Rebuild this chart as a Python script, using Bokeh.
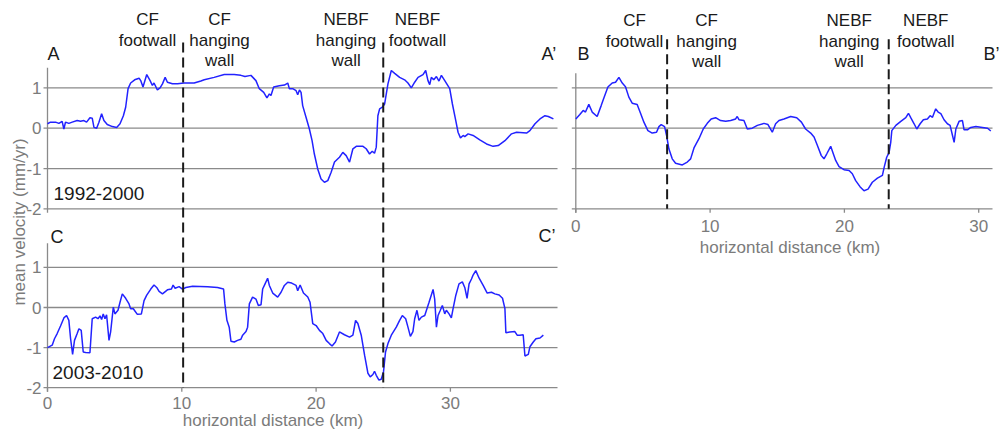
import math
from bokeh.plotting import figure
from bokeh.models import Range1d, Label
from bokeh.core.properties import value
from bokeh.embed import file_html
from bokeh.resources import INLINE

# ---------------- data ----------------
# Profile A-A' (1992-2000), horizontal distance (km) and mean velocity (mm/yr)
dist_a = [0.0, 0.22, 0.60, 0.85, 1.09, 1.22, 1.34, 1.59, 1.84, 2.21, 2.46, 2.71, 2.91, 3.16, 3.33, 3.46, 3.66, 3.83,
          4.03, 4.20, 4.45, 4.83, 5.15, 5.40, 5.65, 5.82, 6.00, 6.19, 6.49, 6.82, 6.94, 7.11, 7.39, 7.64, 7.81, 7.93,
          8.18, 8.38, 8.56, 8.76, 8.93, 9.30, 9.68, 10.17, 10.92, 11.42, 11.67, 12.41, 13.16, 13.90, 14.40, 14.70,
          15.15, 15.52, 15.77, 16.10, 16.34, 16.52, 16.64, 16.84, 17.26, 17.64, 17.89, 18.01, 18.26, 18.51, 18.63,
          18.76, 18.88, 19.00, 19.25, 19.50, 19.70, 19.87, 20.12, 20.37, 20.62, 20.87, 21.12, 21.37, 21.74, 21.99,
          22.24, 22.49, 22.74, 22.99, 23.49, 23.73, 23.98, 24.18, 24.35, 24.48, 24.60, 24.73, 24.93, 25.10, 25.35,
          25.60, 25.85, 26.22, 26.59, 26.84, 27.09, 27.34, 27.59, 27.96, 28.16, 28.33, 28.46, 28.58, 28.76, 28.96,
          29.15, 29.33, 29.58, 29.95, 30.15, 30.40, 30.57, 30.75, 30.95, 31.07, 31.32, 31.69, 32.19, 32.69, 33.18,
          33.56, 34.06, 34.55, 34.93, 35.67, 35.92, 36.30, 36.67, 37.04, 37.29, 37.67]
vel_a = [0.11, 0.15, 0.15, 0.12, 0.17, -0.02, 0.15, 0.12, 0.15, 0.19, 0.17, 0.19, 0.15, 0.26, 0.25, 0.02, 0.0, 0.15,
         0.36, 0.19, 0.09, 0.04, 0.02, 0.11, 0.31, 0.52, 0.98, 1.12, 1.20, 1.24, 1.18, 1.02, 1.33, 1.18, 1.06, 1.12,
         0.95, 1.00, 1.10, 1.26, 1.14, 1.10, 1.10, 1.12, 1.12, 1.17, 1.20, 1.26, 1.33, 1.33, 1.31, 1.28,
         1.31, 1.18, 0.98, 0.89, 0.75, 0.85, 0.81, 1.02, 1.05, 1.07, 1.12, 0.98, 0.98, 0.93, 0.83,
         0.95, 0.89, 0.56, 0.27, -0.02, -0.31, -0.64, -1.01, -1.26, -1.34, -1.30, -1.09, -0.84, -0.72, -0.60,
         -0.68, -0.84, -0.51, -0.45, -0.45, -0.51, -0.64, -0.57, -0.62, -0.47, 0.31, 0.48, 0.52, 0.60, 1.10,
         1.43, 1.36, 1.26, 1.20, 1.12, 1.00, 1.14, 1.26, 1.33, 1.43, 1.18, 1.08, 1.26, 1.20, 1.28,
         1.17, 1.31, 1.18, 0.98, 0.60, 0.19, -0.10, -0.24, -0.18, -0.21, -0.14, -0.18, -0.29, -0.39, -0.45,
         -0.43, -0.31, -0.14, -0.10, -0.12, -0.06, 0.11, 0.23, 0.31, 0.29, 0.23]

# Profile C-C' (2003-2010)
dist_c = [0.0, 0.35, 0.52, 0.72, 0.97, 1.22, 1.42, 1.59, 1.72, 1.87,
          2.01, 2.21, 2.34, 2.51, 2.66, 2.84, 3.16, 3.33, 3.58, 3.76,
          3.91, 4.03, 4.15, 4.28, 4.40, 4.58, 4.70, 4.90, 5.02, 5.25,
          5.40, 5.57, 5.82, 6.07, 6.19, 6.39, 6.69, 6.99, 7.19, 7.39,
          7.69, 7.93, 8.13, 8.31, 8.56, 8.93, 9.23, 9.35, 9.50, 9.80,
          10.05, 10.30, 10.80, 11.92, 12.66, 13.11, 13.21, 13.36, 13.53, 13.66,
          13.91, 14.15, 14.40, 14.53, 14.78, 14.90, 15.03, 15.27, 15.52, 15.70,
          15.90, 16.02, 16.20, 16.39, 16.52, 16.77, 17.14, 17.39, 17.64, 17.89,
          18.18, 18.51, 18.63, 18.81, 19.06, 19.38, 19.55, 19.75, 20.00, 20.25,
          20.50, 20.75, 20.99, 21.19, 21.44, 21.74, 22.11, 22.49, 22.74, 22.94,
          23.11, 23.36, 23.61, 23.86, 24.03, 24.23, 24.35, 24.48, 24.68, 24.85,
          25.02, 25.17, 25.35, 25.60, 25.97, 26.22, 26.42, 26.67, 26.84, 27.02,
          27.21, 27.34, 27.51, 27.66, 27.84, 28.09, 28.41, 28.71, 28.83, 28.96,
          29.08, 29.25, 29.40, 29.58, 29.70, 29.90, 30.07, 30.20, 30.40, 30.64,
          30.89, 31.07, 31.24, 31.39, 31.57, 31.69, 31.89, 32.14, 32.44, 32.74,
          33.06, 33.31, 33.63, 33.88, 34.06, 34.13, 34.43, 34.80, 34.97, 35.17,
          35.42, 35.55, 35.80, 35.92, 36.17, 36.37, 36.67, 36.92]
vel_c = [-1.0, -0.94, -0.78, -0.65, -0.46, -0.26, -0.20, -0.32, -0.78, -1.17,
         -0.82, -0.65, -0.53, -0.57, -1.11, -1.12, -1.13, -0.28, -0.24, -0.28,
         -0.21, -0.30, -0.16, -0.28, -0.18, -0.82, -0.61, 0.01, -0.16, -0.07,
         0.13, 0.34, 0.23, 0.09, -0.03, -0.03, -0.17, -0.16, 0.17, 0.31,
         0.46, 0.56, 0.50, 0.40, 0.34, 0.44, 0.46, 0.56, 0.48, 0.52,
         0.46, 0.50, 0.53, 0.52, 0.50, 0.46, 0.09, -0.32, -0.49, -0.84,
         -0.86, -0.82, -0.79, -0.69, -0.60, -0.49, 0.09, 0.26, 0.21, 0.05,
         0.07, 0.46, 0.59, 0.73, 0.55, 0.36, 0.26, 0.38, 0.55, 0.63,
         0.61, 0.55, 0.42, 0.56, 0.36, 0.26, 0.13, -0.40, -0.45, -0.57,
         -0.65, -0.82, -0.90, -0.96, -0.86, -0.61, -0.68, -0.74, -0.69, -0.32,
         -0.40, -0.69, -1.19, -1.64, -1.73, -1.67, -1.59, -1.69, -1.81, -1.79,
         -1.60, -1.11, -0.90, -0.69, -0.49, -0.32, -0.20, -0.28, -0.49, -0.72,
         -0.60, -0.28, -0.07, -0.32, -0.24, -0.20, 0.13, 0.45, 0.21, -0.49,
         -0.20, -0.07, 0.05, -0.16, -0.07, -0.16, -0.26, -0.03, 0.30, 0.59,
         0.64, 0.50, 0.23, 0.59, 0.71, 0.81, 0.92, 0.73, 0.55, 0.36,
         0.38, 0.34, 0.31, 0.23, -0.03, -0.63, -0.61, -0.60, -0.69, -0.69,
         -0.68, -1.21, -1.17, -0.98, -0.86, -0.78, -0.76, -0.69]

# Profile B-B'
dist_b = [0.0, 0.30, 0.55, 0.72, 0.97, 1.22, 1.59, 1.89, 2.09, 2.39,
          2.71, 2.96, 3.21, 3.46, 3.70, 3.95, 4.20, 4.57, 4.82, 5.07,
          5.37, 5.69, 6.01, 6.19, 6.36, 6.61, 6.76, 6.93, 7.18, 7.43,
          7.93, 8.30, 8.55, 8.80, 9.17, 9.49, 9.79, 10.08, 10.41, 10.78,
          11.16, 11.53, 11.90, 12.02, 12.15, 12.52, 12.77, 13.14, 13.52, 14.01,
          14.31, 14.63, 14.88, 15.13, 15.50, 16.00, 16.45, 16.80, 17.11, 17.49,
          17.74, 17.99, 18.28, 18.48, 18.68, 18.98, 19.18, 19.35, 19.60, 19.97,
          20.35, 20.59, 20.84, 21.16, 21.46, 21.76, 22.08, 22.46, 22.83, 22.96,
          23.15, 23.33, 23.45, 23.53, 23.83, 24.20, 24.57, 24.77, 24.94, 25.19,
          25.39, 25.64, 25.88, 26.18, 26.38, 26.56, 26.80, 26.98, 27.18, 27.42,
          27.67, 27.87, 28.05, 28.17, 28.30, 28.54, 28.79, 28.91, 29.16, 29.41,
          29.79, 30.28, 30.66, 30.90]
vel_b = [0.23, 0.34, 0.44, 0.40, 0.59, 0.40, 0.29, 0.56, 0.75, 1.02,
         1.12, 1.14, 1.26, 1.12, 1.03, 0.77, 0.62, 0.59, 0.37, 0.15,
         -0.06, -0.12, -0.10, 0.04, 0.09, 0.04, -0.18, -0.51, -0.76, -0.87,
         -0.91, -0.84, -0.76, -0.49, -0.26, -0.02, 0.12, 0.23, 0.26, 0.19,
         0.17, 0.19, 0.23, 0.29, 0.21, 0.19, -0.02, 0.0, 0.07, 0.12,
         0.09, -0.10, 0.11, 0.19, 0.23, 0.29, 0.26, 0.15, -0.02, -0.12,
         -0.22, -0.43, -0.68, -0.76, -0.64, -0.45, -0.64, -0.80, -0.95, -1.03,
         -1.05, -1.13, -1.30, -1.45, -1.55, -1.51, -1.34, -1.24, -1.17, -0.97,
         -0.72, -0.60, -0.35, -0.06, 0.07, 0.17, 0.26, 0.37, 0.26, 0.11,
         -0.02, 0.11, 0.21, 0.23, 0.31, 0.27, 0.48, 0.40, 0.36, 0.21,
         0.11, 0.07, -0.18, -0.35, -0.02, 0.17, 0.19, -0.04, -0.04, 0.02,
         0.04, 0.02, 0.0, -0.07]

y_ticks = [1, 0, -1, -2]
y_tick_labels = ["1", "0", "-1", "-2"]
x_ticks = [0, 10, 20, 30]
x_tick_labels = ["0", "10", "20", "30"]
faults_ac = [10.1, 25.0]          # CF and NEBF positions on A-A' / C-C'
faults_b = [6.8, 23.3]            # CF and NEBF positions on B-B'
zones = [["CF", "footwall"], ["CF", "hanging", "wall"], ["NEBF", "hanging", "wall"], ["NEBF", "footwall"]]
zone_km_ac = [7.45, 12.81, 22.23, 27.55]
zone_km_b = [4.37, 9.74, 20.36, 26.06]

# ---------------- geometry ----------------
W, H = 1000, 431
KM_PX = 13.43
LEFT_X0, RIGHT_X0 = 47.0, 575.3
TOP_Y0, TOP_UNIT = 127.7, 40.33
BOT_Y0, BOT_UNIT = 307.0, 40.1
FONT = "Liberation Sans"
BLUE = "#2222ff"
GRID = "#8a8a8a"
TXT_GREY = "#7b7b7b"
DARK = "#1a1a1a"

p = figure(width=W, height=H, output_backend="svg", toolbar_location=None,
           x_axis_type=None, y_axis_type=None, min_border=0,
           x_range=Range1d(-LEFT_X0 / KM_PX, (W - LEFT_X0) / KM_PX),
           y_range=Range1d((TOP_Y0 - H) / TOP_UNIT, TOP_Y0 / TOP_UNIT))
p.title.visible = False
p.outline_line_color = None
p.background_fill_color = "white"
p.border_fill_color = "white"
p.xgrid.visible = False
p.ygrid.visible = False
p.extra_x_ranges = {"xb": Range1d(-RIGHT_X0 / KM_PX, (W - RIGHT_X0) / KM_PX)}
p.extra_y_ranges = {"ybot": Range1d((BOT_Y0 - H) / BOT_UNIT, BOT_Y0 / BOT_UNIT)}

tick_top = 4 / TOP_UNIT
tick_bot = 4 / BOT_UNIT
tick_km = 4 / KM_PX
end_ac = (557 - LEFT_X0) / KM_PX
end_b = (992 - RIGHT_X0) / KM_PX

# gridlines (the -2 line doubles as the x axis)
n = len(y_ticks)
p.segment(x0=[-tick_km] * n, x1=[end_ac] * n, y0=y_ticks, y1=y_ticks, line_color=GRID, line_width=1.3)
p.segment(x0=[-tick_km] * n, x1=[end_ac] * n, y0=y_ticks, y1=y_ticks, line_color=GRID, line_width=1.3,
          y_range_name="ybot")
p.segment(x0=[-tick_km] * n, x1=[end_b] * n, y0=y_ticks, y1=y_ticks, line_color=GRID, line_width=1.3,
          x_range_name="xb")
# y axis lines
p.segment(x0=[0], x1=[0], y0=[-2 - tick_top], y1=[1.5], line_color=GRID, line_width=1.3)
p.segment(x0=[0], x1=[0], y0=[-2 - tick_bot], y1=[1.6], line_color=GRID, line_width=1.3, y_range_name="ybot")
p.segment(x0=[0], x1=[0], y0=[-2 - tick_top], y1=[1.36], line_color=GRID, line_width=1.3, x_range_name="xb")
# x ticks
m = len(x_ticks)
p.segment(x0=x_ticks, x1=x_ticks, y0=[-2] * m, y1=[-2 - tick_bot] * m, line_color=GRID, line_width=1.3,
          y_range_name="ybot")
p.segment(x0=x_ticks, x1=x_ticks, y0=[-2] * m, y1=[-2 - tick_top] * m, line_color=GRID, line_width=1.3,
          x_range_name="xb")

# curves
p.line(dist_a, vel_a, line_color=BLUE, line_width=1.5)
p.line(dist_c, vel_c, line_color=BLUE, line_width=1.5, y_range_name="ybot")
p.line(dist_b, vel_b, line_color=BLUE, line_width=1.5, x_range_name="xb")

# fault lines
dash_top = (TOP_Y0 - 42) / TOP_UNIT
dash_bot_ac = (TOP_Y0 - (BOT_Y0 + 2 * BOT_UNIT)) / TOP_UNIT
p.segment(x0=faults_ac, x1=faults_ac, y0=[dash_top] * 2, y1=[dash_bot_ac] * 2,
          line_color=DARK, line_width=2, line_dash="10 5")
p.segment(x0=faults_b, x1=faults_b, y0=[dash_top + 0.08] * 2, y1=[-2] * 2,
          line_color=DARK, line_width=2, line_dash="10 5", x_range_name="xb")

# tick labels
tf = value(FONT)
p.text(x=[0] * n, y=y_ticks, text=y_tick_labels, x_offset=-6, text_align="right", text_baseline="middle",
       text_font=tf, text_font_size="17px", text_color=TXT_GREY)
p.text(x=[0] * n, y=y_ticks, text=y_tick_labels, x_offset=-6, text_align="right", text_baseline="middle",
       text_font=tf, text_font_size="17px", text_color=TXT_GREY, y_range_name="ybot")
p.text(x=x_ticks, y=[-2 - 15 / BOT_UNIT] * m, text=x_tick_labels, text_align="center",
       text_baseline="middle", text_font=tf, text_font_size="17px", text_color=TXT_GREY, y_range_name="ybot")
p.text(x=x_ticks, y=[-2 - 17 / TOP_UNIT] * m, text=x_tick_labels, text_align="center",
       text_baseline="middle", text_font=tf, text_font_size="17px", text_color=TXT_GREY, x_range_name="xb")


def lab(text, sx, mid_from_top, size, color, align="left", angle=0.0):
    p.add_layout(Label(x=sx, y=H - mid_from_top, x_units="screen", y_units="screen", text=text,
                       text_font=FONT, text_font_size=size, text_color=color, text_align=align,
                       text_baseline="middle", angle=angle))


# zone labels
for km, lines in zip(zone_km_ac, zones):
    for i, t in enumerate(lines):
        lab(t, LEFT_X0 + km * KM_PX, 19 + 20.5 * i, "17px", DARK, "center")
for km, lines in zip(zone_km_b, zones):
    for i, t in enumerate(lines):
        lab(t, RIGHT_X0 + km * KM_PX, 20 + 20.5 * i, "17px", DARK, "center")

# panel letters and periods
lab("A", 47, 53.5, "18px", DARK)
lab("A\u2019", 541, 53.5, "18px", DARK)
lab("B", 577, 53.5, "18px", DARK)
lab("B\u2019", 983, 53.5, "18px", DARK)
lab("C", 50, 236.5, "18px", DARK)
lab("C\u2019", 538, 235.5, "18px", DARK)
lab("1992-2000", 53, 193, "19px", DARK)
lab("2003-2010", 52, 371.5, "19px", DARK)

# axis titles
lab("horizontal distance (km)", 272.5, 419.5, "17px", TXT_GREY, "center")
lab("horizontal distance (km)", 789.5, 247, "17px", TXT_GREY, "center")
lab("mean velocity (mm/yr)", 19, 221.5, "17px", TXT_GREY, "center", math.pi / 2)

open("out.html", "w").write(file_html(p, INLINE))
